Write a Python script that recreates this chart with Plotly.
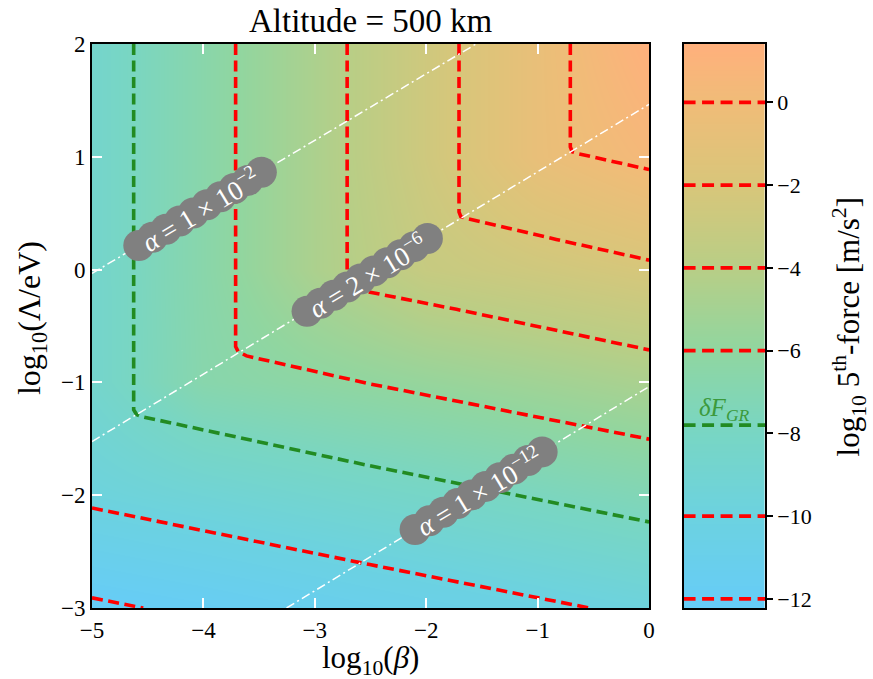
import plotly.graph_objects as go

# ---------------- data ----------------
# background field: log10 5th-force on a coarse grid (read from colours/contours)
x_grid = [-5, -4, -3, -2, -1, 0]          # log10(beta)
y_grid = [-3, -2, -1, 0, 1, 2]            # log10(Lambda/eV)
force_grid = [
    [-12.22, -11.79, -11.28, -10.77, -10.26, -9.75],
    [-9.75, -9.24, -8.73, -8.22, -7.71, -7.20],
    [-8.59, -6.69, -6.18, -5.67, -5.16, -4.65],
    [-8.59, -6.59, -4.59, -3.12, -2.61, -2.10],
    [-8.59, -6.59, -4.59, -2.59, -0.59, 0.45],
    [-8.59, -6.59, -4.59, -2.59, -0.59, 1.41],
]
force_min, force_max = -12.22, 1.41

# contour lines (vertices)
contour_levels = [-12, -10, -7.8, -6, -4, -2, 0]
contour_is_gr = [False, False, True, False, False, False, False]
contour_x = [
    [-5.0, -4.54],
    [-5.0, -2.507, -0.534],
    [-4.626, -4.626, -4.60, -4.555, -2.507, 0.0],
    [-3.711, -3.711, -3.688, -3.613, -2.507, 0.0],
    [-2.71, -2.71, -2.69, -2.62, -1.729, 0.0],
    [-1.706, -1.706, -1.69, -1.64, -0.833, 0.0],
    [-0.707, -0.707, -0.69, -0.638, 0.0],
]
contour_y = [
    [-2.91, -3.0],
    [-2.113, -2.615, -3.0],
    [2.0, -1.243, -1.285, -1.303, -1.739, -2.237],
    [2.0, -0.683, -0.727, -0.765, -1.013, -1.503],
    [2.0, -0.12, -0.16, -0.178, -0.352, -0.712],
    [2.0, 0.511, 0.47, 0.453, 0.267, 0.084],
    [2.0, 1.087, 1.045, 1.028, 0.887],
]

# iso-alpha lines (end points)
alpha_line_x = [[-5.0, -1.553], [-5.0, 0.0], [-3.254, 0.0]]
alpha_line_y = [[-0.034, 2.0], [-1.524, 1.465], [-3.0, -1.037]]
alpha_text = [
    "<i>α</i> = 1 × 10<sup>−2</sup>",
    "<i>α</i> = 2 × 10<sup>−6</sup>",
    "<i>α</i> = 1 × 10<sup>−12</sup>",
]
alpha_label_span = [[-4.58, -3.48], [-3.07, -1.99], [-2.10, -0.96]]

x_ticks = [-5, -4, -3, -2, -1, 0]
y_ticks = [-3, -2, -1, 0, 1, 2]
cbar_ticks = [-12, -10, -8, -6, -4, -2, 0]

# ---------------- style ----------------
FONT = "Liberation Serif, DejaVu Serif, serif"
RED = "#ff0000"
GREEN = "#228b22"
DASH = "11px,5.5px"


def cpos(v):
    return (v - force_min) / (force_max - force_min)


colorscale = [
    [0.0, "#66ccf8"],
    [cpos(-10), "#6cd2e0"],
    [cpos(-8), "#78d6c4"],
    [cpos(-6), "#90d6a0"],
    [cpos(-4), "#b8ce86"],
    [cpos(-2), "#d8c67a"],
    [cpos(0), "#f0bc78"],
    [1.0, "#ffb07c"],
]

L, R, T, B = 92, 107.5, 43.5, 70.5
W, H = 873, 679
pw = W - L - R
ph = H - T - B
main_dom = [0, 557.5 / pw]
cb_dom = [(684 - L) / pw, 1.0]

fig = go.Figure()

fig.add_trace(go.Heatmap(
    x=x_grid, y=y_grid, z=force_grid, zsmooth="best",
    colorscale=colorscale, zmin=force_min, zmax=force_max,
    showscale=False, hoverinfo="skip"))

for lv, gr, xs, ys in zip(contour_levels, contour_is_gr, contour_x, contour_y):
    fig.add_trace(go.Scatter(
        x=xs, y=ys, mode="lines", hoverinfo="skip",
        line=dict(color=GREEN if gr else RED, width=3.6, dash=DASH)))

for xs, ys in zip(alpha_line_x, alpha_line_y):
    fig.add_trace(go.Scatter(
        x=xs, y=ys, mode="lines", hoverinfo="skip",
        line=dict(color="white", width=1.5, dash="9px,3.5px,2px,3.5px")))


def on_line(i, x):
    (x0, x1), (y0, y1) = alpha_line_x[i], alpha_line_y[i]
    return y0 + (x - x0) * (y1 - y0) / (x1 - x0)


annotations = []
for i, (txt, (xa, xb)) in enumerate(zip(alpha_text, alpha_label_span)):
    n = 10
    bx = [xa + k * (xb - xa) / (n - 1) for k in range(n)]
    by = [on_line(i, v) for v in bx]
    fig.add_trace(go.Scatter(
        x=bx, y=by, mode="markers", hoverinfo="skip",
        marker=dict(color="#808080", size=31, line=dict(width=0))))
    xc = (xa + xb) / 2
    annotations.append(dict(
        x=xc, y=on_line(i, xc), xref="x", yref="y", text=txt,
        showarrow=False, textangle=-31, xanchor="center", yanchor="middle",
        font=dict(family=FONT, size=27, color="white")))

# colour bar built on its own axes
fig.add_trace(go.Heatmap(
    x=[0, 1], y=[force_min, force_max],
    z=[[force_min, force_min], [force_max, force_max]], zsmooth="best",
    colorscale=colorscale, zmin=force_min, zmax=force_max,
    showscale=False, hoverinfo="skip", xaxis="x2", yaxis="y2"))
for lv, gr in zip(contour_levels, contour_is_gr):
    fig.add_trace(go.Scatter(
        x=[0, 1], y=[lv, lv], mode="lines", hoverinfo="skip",
        xaxis="x2", yaxis="y2",
        line=dict(color=GREEN if gr else RED, width=3.6, dash="12px,6.5px")))
    if gr:
        annotations.append(dict(
            x=0.5, y=lv, xref="x2", yref="y2", yshift=16,
            text="<i>δF<sub>GR</sub></i>", showarrow=False,
            font=dict(family=FONT, size=25, color="#3c9a3c")))

annotations += [
    dict(x=(370.75 - L) / pw, y=(H - B - 20) / ph, xref="paper", yref="paper",
         text="Altitude = 500 km", showarrow=False, xanchor="center",
         yanchor="middle", font=dict(family=FONT, size=33, color="black")),
    dict(x=(370.75 - L) / pw, y=(H - B - 661) / ph, xref="paper", yref="paper",
         text="log<sub>10</sub>(<i>β</i>)", showarrow=False, xanchor="center",
         yanchor="middle", font=dict(family=FONT, size=31, color="black")),
    dict(x=(31 - L) / pw, y=(H - B - 318) / ph, xref="paper", yref="paper",
         text="log<sub>10</sub>(Λ/eV)", showarrow=False, textangle=-90,
         xanchor="center", yanchor="middle",
         font=dict(family=FONT, size=32, color="black")),
    dict(x=(850 - L) / pw, y=(H - B - 327) / ph, xref="paper", yref="paper",
         text="log<sub>10</sub> 5<sup>th</sup>-force [m/s<sup>2</sup>]",
         showarrow=False, textangle=-90, xanchor="center", yanchor="middle",
         font=dict(family=FONT, size=31, color="black")),
]

axis_common = dict(showgrid=False, zeroline=False, showline=True,
                   linecolor="black", linewidth=1.8)
fig.update_layout(
    width=W, height=H, margin=dict(l=L, r=R, t=T, b=B),
    paper_bgcolor="white", plot_bgcolor="white", showlegend=False,
    font=dict(family=FONT, color="black"),
    xaxis=dict(domain=main_dom, range=[-5, 0], tickvals=x_ticks,
               ticks="inside", ticklen=10, tickwidth=1.5, tickcolor="white",
               mirror="allticks",
               tickfont=dict(family=FONT, size=23, color="black"),
               anchor="y", **axis_common),
    yaxis=dict(domain=[0, 1], range=[-3, 2], tickvals=y_ticks,
               ticks="inside", ticklen=10, tickwidth=1.5, tickcolor="white",
               mirror="allticks",
               tickfont=dict(family=FONT, size=23, color="black"),
               anchor="x", **axis_common),
    xaxis2=dict(domain=cb_dom, range=[0, 1], showticklabels=False,
                ticks="", mirror=True, anchor="y2", **axis_common),
    yaxis2=dict(domain=[0, 1], range=[force_min, force_max],
                tickvals=cbar_ticks, side="right", ticks="outside",
                ticklen=6, tickwidth=1.5, tickcolor="black", mirror=True,
                tickfont=dict(family=FONT, size=22, color="black"),
                anchor="x2", **axis_common),
    annotations=annotations,
)

fig.write_html("out.html",
               config={"displayModeBar": False},
               post_script="document.body.style.margin='0px';"
                           "document.body.style.overflow='hidden';")
